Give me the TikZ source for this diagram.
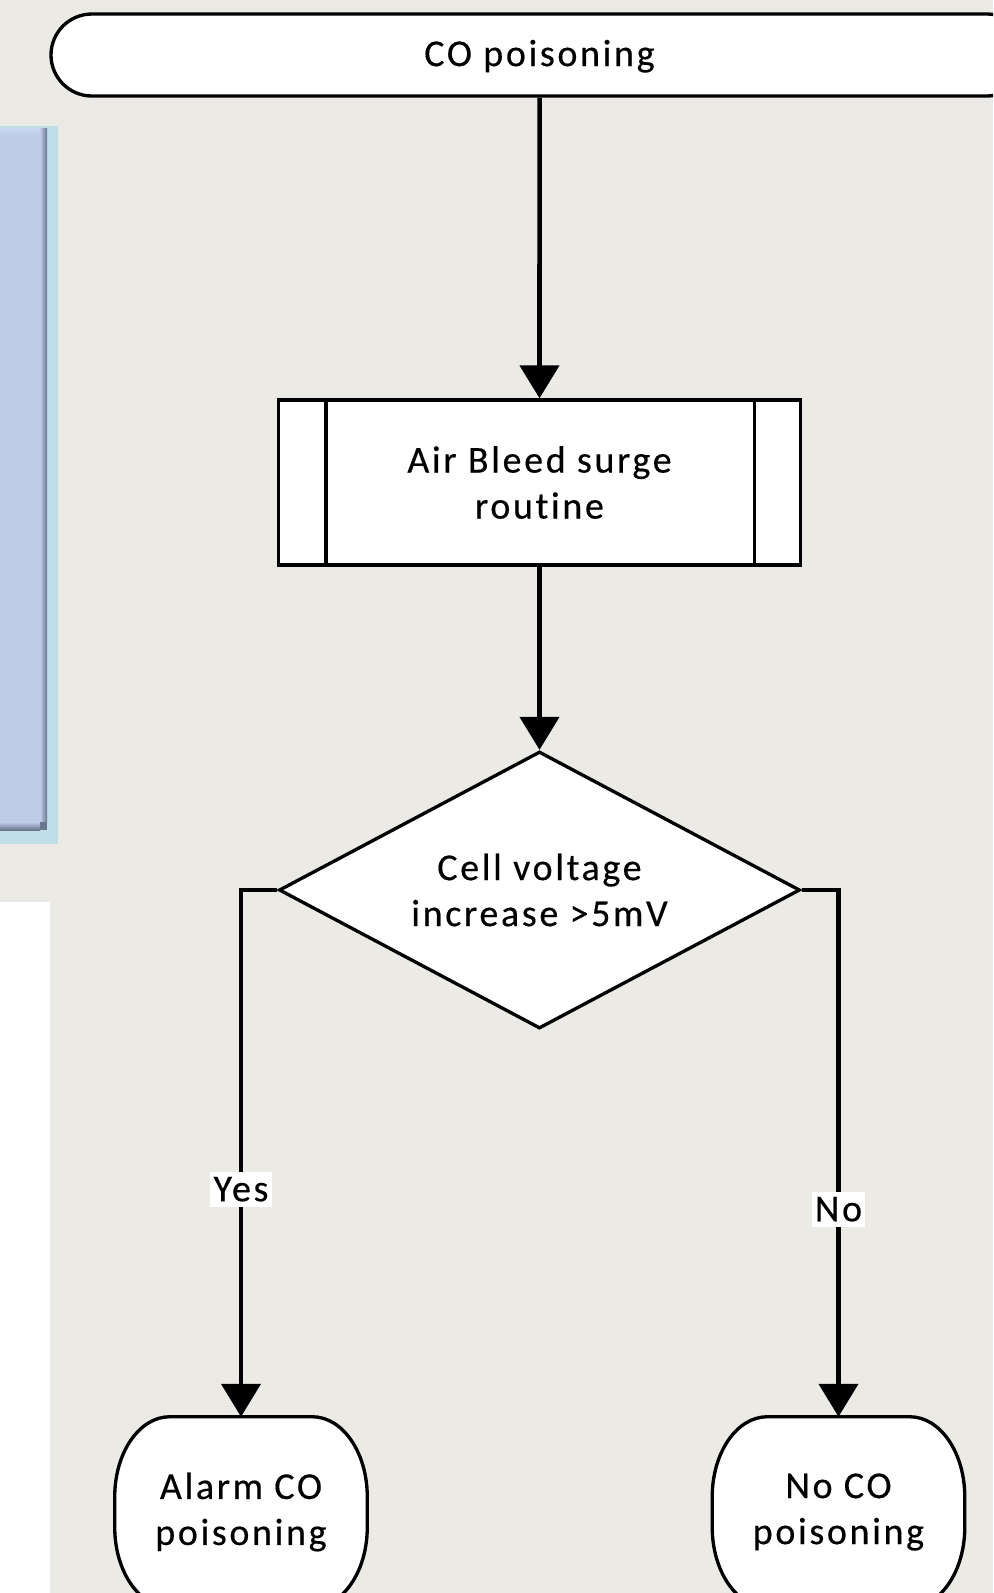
\documentclass[tikz,border=0pt]{standalone}
\usepackage{fontspec}
\setmainfont{Carlito}[LetterSpace=7, Ligatures=NoCommon, FakeBold=0.4]
\usetikzlibrary{arrows.meta,shapes.geometric,shapes.misc,calc}
\pgfdeclarelayer{back}
\pgfdeclarelayer{mid}
\pgfsetlayers{back,mid,main}

\definecolor{pagebg}{RGB}{235,234,229}
\definecolor{panelouter}{RGB}{193,221,231}
\definecolor{panelinner}{RGB}{192,203,232}
\definecolor{paneledge}{RGB}{104,118,142}
\definecolor{panellight}{RGB}{200,218,240}

\tikzset{
  shapeline/.style={draw=black, line width=2.5pt, fill=white},
  txt/.style={font=\fontsize{28.5}{34.5}\selectfont, align=center, text=black},
  term/.style={shapeline, txt, rounded rectangle, inner sep=0pt,
    minimum width=732.75pt, minimum height=61.5pt, text depth=3pt},
  procbox/.style={shapeline, txt, rectangle, inner sep=0pt,
    minimum width=391.5pt, minimum height=123.75pt},
  decbox/.style={shapeline, txt, diamond, aspect=1.88, inner sep=0pt,
    minimum width=390.75pt, minimum height=207.75pt},
  endbox/.style={txt, rectangle, inner sep=0pt,
    minimum width=189pt, minimum height=142.5pt},
  conn/.style={draw=black, line width=3.4pt,
    -{Triangle[length=24.75pt,width=29.25pt]}},
  lbl/.style={txt, fill=white, inner xsep=2.5pt, inner ysep=4pt}
}

\begin{document}
\begin{tikzpicture}[x=0.75pt,y=-0.75pt]
  \useasboundingbox (0,0) rectangle (993,1593);
  \clip (0,0) rectangle (993,1593);

  % page and side panels
  \begin{pgfonlayer}{back}
    \fill[pagebg] (0,0) rectangle (993,1593);
    \fill[panelouter] (0,126) rectangle (58,844);
    \fill[panelinner] (0,128) rectangle (40,822);
    \shade[left color=panelinner, right color=paneledge] (40,128) rectangle (47,822);
    \shade[top color=panelinner, bottom color=paneledge] (0,822) rectangle (40,830);
    \fill[paneledge] (40,822) rectangle (47,830);
    \shade[top color=panellight, bottom color=panelinner] (0,128) rectangle (40,136);
    \fill[white] (0,902) rectangle (50,1593);
  \end{pgfonlayer}

  % flow chart nodes
  \node[term]    (start) at (539.5,55)    {CO poisoning};
  \node[procbox] (proc)  at (539.5,482.5) {Air Bleed surge\\routine};
  \node[decbox]  (dec)   at (539.5,890)   {Cell voltage\\increase >5mV};
  \node[endbox]  (alarm) at (241,1512)    {Alarm CO\\poisoning};
  \node[endbox]  (noco)  at (838.5,1512)  {No CO\\poisoning};

  % side bars of the predefined process box
  \draw[line width=2.5pt] ([xshift=36.75pt]proc.north west) -- ([xshift=36.75pt]proc.south west);
  \draw[line width=2.5pt] ([xshift=-36pt]proc.north east) -- ([xshift=-36pt]proc.south east);

  % outlines of the two end terminals
  \begin{pgfonlayer}{mid}
    \foreach \n in {alarm,noco}{
      \draw[shapeline]
        ([xshift=41.25pt]\n.north west) -- ([xshift=-41.25pt]\n.north east)
        arc[start angle=90, end angle=0, x radius=41.25pt, y radius=60pt]
        -- ([yshift=60pt]\n.south east)
        arc[start angle=0, end angle=-90, x radius=41.25pt, y radius=60pt]
        -- ([xshift=41.25pt]\n.south west)
        arc[start angle=270, end angle=180, x radius=41.25pt, y radius=60pt]
        -- ([yshift=-60pt]\n.north west)
        arc[start angle=180, end angle=90, x radius=41.25pt, y radius=60pt]
        -- cycle;
    }
  \end{pgfonlayer}

  % connectors
  \draw[conn] (start) -- (proc);
  \draw[conn] (proc) -- (dec);
  \draw[conn] (dec.west) -| node[lbl, pos=0.784] (yes) {Yes} (alarm.north);
  \draw[conn] (dec.east) -| node[lbl, pos=0.803] (no) {No} (noco.north);
\end{tikzpicture}
\end{document}
